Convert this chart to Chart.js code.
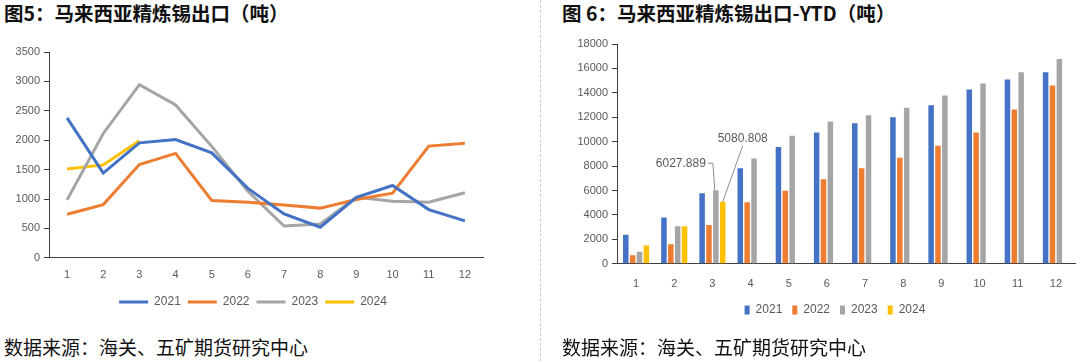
<!DOCTYPE html>
<html>
<head>
<meta charset="utf-8">
<script src="https://cdn.jsdelivr.net/npm/chart.js@4"></script>
<style>
  body { margin: 0; width: 1080px; height: 361px; background: #fff; position: relative; overflow: hidden; }
  .titulo { position: absolute; top: 0; font: bold 19.5px "Noto Sans CJK SC"; line-height: 26px; color: #111; white-space: nowrap; }
  .fuente { position: absolute; top: 334px; font: 19px "Noto Sans CJK SC"; line-height: 26px; color: #111; white-space: nowrap; }
  .sep { position: absolute; left: 540px; top: 0; height: 361px; border-left: 1px dashed #c8c8c8; }
  canvas { position: absolute; }
</style>
</head>
<body>
<div class="titulo" style="left:4px">图5：马来西亚精炼锡出口（吨）</div>
<div class="titulo" style="left:562px">图 6：马来西亚精炼锡出口-YTD（吨）</div>
<div class="sep"></div>
<canvas id="graficoMensual" width="540" height="290" style="left:0;top:40px"></canvas>
<canvas id="graficoYTD" width="540" height="315" style="left:540px;top:30px"></canvas>
<div class="fuente" style="left:4px">数据来源：海关、五矿期货研究中心</div>
<div class="fuente" style="left:562px">数据来源：海关、五矿期货研究中心</div>

<script>
// datos
const meses = ['1', '2', '3', '4', '5', '6', '7', '8', '9', '10', '11', '12'];
const series = ['2021', '2022', '2023', '2024'];
const colores = ['#4472C4', '#ED7D31', '#A5A5A5', '#FFC000'];

// exportación mensual (t)
const mensual2021 = [2380, 1440, 1955, 2010, 1785, 1180, 745, 520, 1030, 1230, 820, 627];
const mensual2022 = [740, 905, 1585, 1775, 975, 945, 900, 845, 990, 1100, 1900, 1950];
const mensual2023 = [985, 2115, 2945, 2600, 1895, 1130, 540, 575, 1030, 960, 945, 1105];
const mensual2024 = [1510, 1580, 1990];

// acumulado YTD (t)
const ytd2021 = [2370, 3785, 5775, 7815, 9560, 10755, 11520, 12010, 12990, 14270, 15085, 15685];
const ytd2022 = [710, 1605, 3185, 5040, 5990, 6915, 7815, 8690, 9665, 10755, 12635, 14595];
const ytd2023 = [980, 3075, 6027.889, 8630, 10485, 11655, 12170, 12770, 13780, 14760, 15685, 16775];
const ytd2024 = [1500, 3080, 5080.808];

const fuenteTick = { family: 'Liberation Sans', size: 11 };
const colorTick = '#595959';
const colorEje = '#404040';

function leyendaSinBorde(chart) {
    const items = Chart.defaults.plugins.legend.labels.generateLabels(chart);
    return items.map(it => ({ ...it, lineWidth: 0, fillStyle: it.strokeStyle }));
}

// Ajuste después del layout: que las etiquetas del eje Y no se recorten
// y colocar la leyenda donde está en la imagen original
const ajusteLayout = {
    id: 'ajusteLayout',
    afterLayout(chart, args, opts) {
        chart.scales.y.left = 0;
        const lg = chart.legend;
        const w = lg.right - lg.left;
        const h = lg.bottom - lg.top;
        lg.left = opts.cx - w / 2;
        lg.right = opts.cx + w / 2;
        lg.top = opts.cy - lg.options.labels.padding - 7;
        lg.bottom = lg.top + h;
    }
};

// 1. Gráfico de líneas: exportación mensual
new Chart(document.getElementById('graficoMensual'), {
    type: 'line',
    data: {
        labels: meses,
        datasets: [mensual2021, mensual2022, mensual2023, mensual2024].map((d, i) => ({
            label: series[i],
            data: d,
            borderColor: colores[i],
            backgroundColor: colores[i],
            borderWidth: 3,
            pointRadius: 0,
            tension: 0,
            fill: false
        }))
    },
    options: {
        responsive: false,
        animation: false,
        layout: { padding: { left: 0, right: 57, top: 12, bottom: 16 } },
        plugins: {
            tooltip: { enabled: false },
            ajusteLayout: { cx: 253, cy: 263 },
            legend: {
                position: 'bottom',
                labels: {
                    boxWidth: 29, boxHeight: 3, padding: 7,
                    color: colorTick,
                    font: { family: 'Liberation Sans Narrow, Liberation Sans', size: 12 },
                    generateLabels: leyendaSinBorde
                }
            }
        },
        scales: {
            x: {
                offset: true,
                grid: { display: false },
                border: { display: true, color: colorEje },
                ticks: { color: colorTick, font: fuenteTick, padding: 3, maxRotation: 0 }
            },
            y: {
                min: 0, max: 3500,
                afterFit: s => { s.width = 49; },
                grid: { drawOnChartArea: false, drawTicks: true, tickLength: 5, color: colorEje },
                border: { color: colorEje },
                ticks: { stepSize: 500, color: colorTick, font: fuenteTick, padding: 4, callback: v => String(v) }
            }
        }
    },
    plugins: [ajusteLayout]
});

// etiquetas con línea guía sobre las barras de marzo
const etiquetasGuia = {
    id: 'etiquetasGuia',
    afterDatasetsDraw(chart) {
        const ctx = chart.ctx;
        const gris = chart.getDatasetMeta(2).data[2];
        const amarillo = chart.getDatasetMeta(3).data[2];
        ctx.save();
        ctx.strokeStyle = '#8c8c8c';
        ctx.lineWidth = 1;
        ctx.fillStyle = colorTick;
        ctx.font = '12px Liberation Sans';
        ctx.textBaseline = 'middle';

        // 2023
        ctx.beginPath();
        ctx.moveTo(gris.x - 8, gris.y - 27);
        ctx.lineTo(gris.x - 3, gris.y - 27);
        ctx.lineTo(gris.x - 1, gris.y);
        ctx.stroke();
        ctx.textAlign = 'right';
        ctx.fillText(String(ytd2023[2]), gris.x - 10, gris.y - 27);

        // 2024
        ctx.beginPath();
        ctx.moveTo(amarillo.x + 20, amarillo.y - 56);
        ctx.lineTo(amarillo.x, amarillo.y);
        ctx.stroke();
        ctx.textAlign = 'center';
        ctx.fillText(String(ytd2024[2]), amarillo.x + 20, amarillo.y - 63);
        ctx.restore();
    }
};

// 2. Gráfico de barras: acumulado YTD
new Chart(document.getElementById('graficoYTD'), {
    type: 'bar',
    data: {
        labels: meses,
        datasets: [ytd2021, ytd2022, ytd2023, ytd2024].map((d, i) => ({
            label: series[i],
            data: d,
            backgroundColor: colores[i],
            borderWidth: 0,
            categoryPercentage: 0.72,
            barPercentage: 0.8
        }))
    },
    options: {
        responsive: false,
        animation: false,
        layout: { padding: { left: 0, right: 5, top: 14, bottom: 16 } },
        plugins: {
            tooltip: { enabled: false },
            ajusteLayout: { cx: 295, cy: 281 },
            legend: {
                position: 'bottom',
                labels: {
                    boxWidth: 5, boxHeight: 9, padding: 10,
                    color: colorTick,
                    font: { family: 'Liberation Sans Narrow, Liberation Sans', size: 12 }
                }
            }
        },
        scales: {
            x: {
                grid: { display: false },
                border: { display: true, color: colorEje },
                ticks: { color: colorTick, font: fuenteTick, padding: 6, maxRotation: 0 }
            },
            y: {
                min: 0, max: 18000,
                afterFit: s => { s.width = 77; },
                grid: { drawOnChartArea: false, drawTicks: true, tickLength: 5, color: colorEje },
                border: { color: colorEje },
                ticks: { stepSize: 2000, color: colorTick, font: fuenteTick, padding: 4, callback: v => String(v) }
            }
        }
    },
    plugins: [ajusteLayout, etiquetasGuia]
});
</script>
</body>
</html>
